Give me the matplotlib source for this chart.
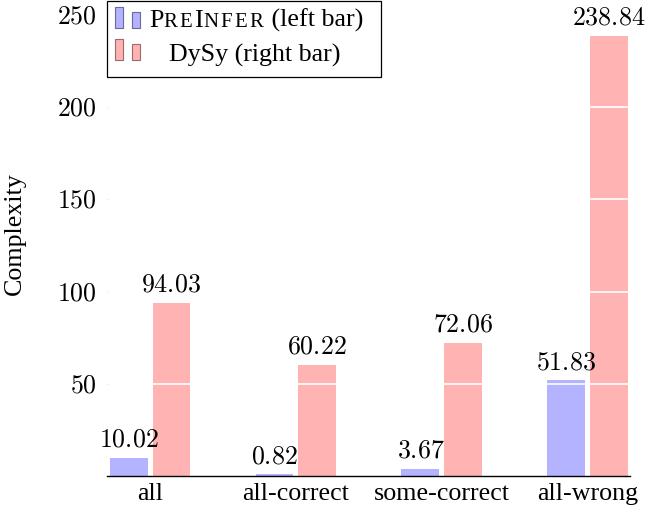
import matplotlib
matplotlib.use("Agg")
import matplotlib.pyplot as plt
from matplotlib.patches import Rectangle
import numpy as np

categories = ["all", "all-correct", "some-correct", "all-wrong"]
preinfer = [10.02, 0.82, 3.67, 51.83]
dysy = [94.03, 60.22, 72.06, 238.84]
yticks = [50, 100, 150, 200, 250]

plt.rcParams['font.family'] = ['Liberation Serif', 'DejaVu Serif']
plt.rcParams['mathtext.fontset'] = 'cm'

W, H = 662, 512
FS = 18.7
blue = '#b3b3ff'
red = '#ffb3b3'

fig = plt.figure(figsize=(W / 100, H / 100), dpi=100)
ax = fig.add_axes([107 / W, 1 - 476 / H, (630 - 107) / W, (476 - 15) / H])

x = np.arange(len(categories))
bw = 0.26
off = 0.147
b1 = ax.bar(x - off, preinfer, bw, color=blue, zorder=1)
b2 = ax.bar(x + off, dysy, bw, color=red, zorder=1)

for v in yticks[:-1]:
    ax.axhline(v, color='white', lw=1.2, zorder=2)

for rects, vals in ((b1, preinfer), (b2, dysy)):
    for r, v in zip(rects, vals):
        ax.annotate(f"${v:.2f}$", (r.get_x() + r.get_width() / 2, v),
                    xytext=(0, 4.5), textcoords='offset points',
                    ha='center', va='bottom', fontsize=FS, zorder=3)

ax.set_xlim(-0.295, 3.29)
ax.set_ylim(0, 250)
ax.set_yticks(yticks)
ax.set_yticklabels([f"${v}$" for v in yticks], fontsize=FS)
ax.set_xticks(x)
ax.set_xticklabels(categories, fontsize=FS)
ax.tick_params(axis='y', length=1.5, width=0.6, color='#888888', pad=7, direction='in')
ax.tick_params(axis='x', length=0, pad=5)
for s in ('left', 'right', 'top'):
    ax.spines[s].set_visible(False)
ax.spines['bottom'].set_linewidth(1.0)
ax.set_ylabel("Complexity", fontsize=FS)
ax.yaxis.set_label_coords(-0.155, 0.525)

# manual legend (pgfplots style)
def fx(px):
    return px / W

def fy(py):
    return 1 - py / H

fig.add_artist(Rectangle((fx(107), fy(77)), fx(381) - fx(107), fy(1) - fy(77),
                         transform=fig.transFigure, fill=True, facecolor='white',
                         edgecolor='black', lw=0.9, zorder=5))
icons = [(blue, '#6a6aa0', 28), (red, '#a06a6a', 60)]
for fc, ec, base in icons:
    fig.add_artist(Rectangle((fx(115), fy(base)), fx(123) - fx(115), fy(base - 21) - fy(base),
                             transform=fig.transFigure, facecolor=fc, edgecolor=ec, lw=0.8, zorder=6))
    fig.add_artist(Rectangle((fx(132), fy(base)), fx(140) - fx(132), fy(base - 16) - fy(base),
                             transform=fig.transFigure, facecolor=fc, edgecolor=ec, lw=0.8, zorder=6))

renderer = fig.canvas.get_renderer()
SC = FS * 0.8
TRACK = 2.2
row1 = [("P", FS, 0)] + [(c, SC, TRACK) for c in "RE"] + [("I", FS, 0)] + \
       [(c, SC, TRACK) for c in "NFER"] + [(" (left bar)", FS, 0)]
row2 = [("DySy (right bar)", FS, 0)]

def place_row(pieces, center_px, base_px):
    texts = []
    widths = []
    for s, size, track in pieces:
        t = fig.text(0, fy(base_px), s, fontsize=size, va='baseline', ha='left', zorder=7)
        bb = t.get_window_extent(renderer=renderer)
        texts.append(t)
        widths.append(bb.width + track)
    total = sum(widths)
    xpos = center_px - total / 2
    for t, w in zip(texts, widths):
        t.set_x(fx(xpos))
        xpos += w

place_row(row1, 256.5, 27)
place_row(row2, 254.5, 62)

fig.savefig("out.png", dpi=100)
